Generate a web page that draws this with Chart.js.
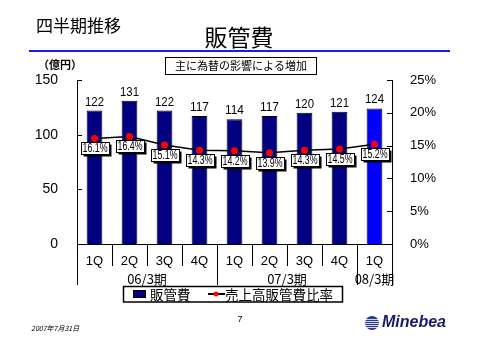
<!DOCTYPE html>
<html><head><meta charset="utf-8">
<script src="https://cdn.jsdelivr.net/npm/chart.js@4"></script>
<style>html,body{margin:0;padding:0;background:#fff;}#wrap{width:480px;height:340px;position:relative;}</style>
</head><body><div id="wrap"><canvas id="c" width="480" height="340"></canvas></div>
<script>
const categories = ['1Q','2Q','3Q','4Q','1Q','2Q','3Q','4Q','1Q'];
const fiscalYears = ['06/3期','07/3期','08/3期'];
const fiscalYearSpans = [4,4,1];
const sgaValues = [122,131,122,117,114,117,120,121,124];
const sgaRatio = [16.1,16.4,15.1,14.3,14.2,13.9,14.3,14.5,15.2];
const seriesNames = ['販管費','売上高販管費比率'];
const leftAxisMax = 150, leftAxisStep = 50;
const rightAxisMax = 25, rightAxisStep = 5;

const FONT = "'Liberation Sans','Noto Sans CJK JP',Arial,sans-serif";
const JFONT = "'Noto Sans CJK JP','Liberation Sans',sans-serif";

const deco = {
  id:'deco',
  afterDraw(chart){
    const ctx = chart.ctx, x = chart.scales.x, y = chart.scales.y, y1 = chart.scales.y1;
    const area = chart.chartArea;
    ctx.save();
    ctx.strokeStyle='#000'; ctx.lineWidth=1;
    y.ticks.forEach(t=>{const py=Math.round(y.getPixelForValue(t.value))+0.5;ctx.beginPath();ctx.moveTo(area.left,py);ctx.lineTo(area.left+5,py);ctx.stroke();});
    y1.ticks.forEach(t=>{const py=Math.round(y1.getPixelForValue(t.value))+0.5;ctx.beginPath();ctx.moveTo(area.right,py);ctx.lineTo(area.right-5,py);ctx.stroke();});
    const half=(x.getPixelForValue(1)-x.getPixelForValue(0))/2;
    const groupBounds=[0]; let acc=0; fiscalYearSpans.forEach(s=>{acc+=s;groupBounds.push(acc);});
    for(let i=0;i<=categories.length;i++){
      const px=Math.round(x.getPixelForValue(i)-half)+0.5;
      const isGroup=groupBounds.includes(i);
      ctx.beginPath();ctx.moveTo(px,area.bottom);ctx.lineTo(px,isGroup?285:266);ctx.stroke();
    }
    ctx.fillStyle='#000';ctx.font='13px '+JFONT;ctx.textAlign='center';ctx.textBaseline='middle';
    let start=0;
    fiscalYears.forEach((g,i)=>{
      const a=x.getPixelForValue(start)-half, b=x.getPixelForValue(start+fiscalYearSpans[i]-1)+half;
      ctx.fillText(g,(a+b)/2,279); start+=fiscalYearSpans[i];
    });
    const barMeta=chart.getDatasetMeta(0);
    ctx.font='13px '+FONT;ctx.textBaseline='alphabetic';
    barMeta.data.forEach((el,i)=>{ctx.fillText(String(sgaValues[i]),el.x,el.y-5,19);});
    const lineMeta=chart.getDatasetMeta(1);
    ctx.font='12px '+FONT;
    lineMeta.data.forEach((el,i)=>{
      const txt=sgaRatio[i].toFixed(1)+'%';
      const w=28,h=12,bx=Math.round(el.x-w/2)+0.5,by=Math.round(el.y+4)+0.5;
      ctx.fillStyle='#000';ctx.fillRect(bx+2,by+2,w,h);
      ctx.fillStyle='#fff';ctx.fillRect(bx,by,w,h);
      ctx.strokeStyle='#000';ctx.lineWidth=1;ctx.strokeRect(bx,by,w,h);
      ctx.fillStyle='#000';ctx.textBaseline='middle';ctx.fillText(txt,el.x+0.5,by+h/2+0.5,25);
    });
    ctx.textAlign='left';ctx.textBaseline='middle';ctx.fillStyle='#000';
    ctx.font='17px '+JFONT;ctx.fillText('四半期推移',36,26);
    ctx.textAlign='center';ctx.font='23px '+JFONT;ctx.fillText('販管費',239,37);
    ctx.fillStyle='#1a1aff';ctx.fillRect(29,50,421,2);
    ctx.fillStyle='#000';ctx.textAlign='left';ctx.font='bold 11px '+JFONT;ctx.fillText('（億円）',38,65);
    ctx.strokeStyle='#000';ctx.lineWidth=1;ctx.strokeRect(165.5,57.5,151,17);
    ctx.textAlign='center';ctx.font='11px '+JFONT;ctx.fillText('主に為替の影響による増加',241,66);
    ctx.lineWidth=1.5;ctx.strokeRect(123.5,286.5,219,15.5);
    ctx.fillStyle='#000080';ctx.fillRect(133,290,13,8);ctx.strokeStyle='#000';ctx.lineWidth=1;ctx.strokeRect(133.5,290.5,12,7);
    ctx.fillStyle='#000';ctx.textAlign='left';ctx.font='13.5px '+JFONT;ctx.fillText(seriesNames[0],150,294.5);
    ctx.fillRect(208,293,17,2);ctx.fillStyle='#ff0000';ctx.beginPath();ctx.arc(216,294,2.5,0,Math.PI*2);ctx.fill();
    ctx.fillStyle='#000';ctx.fillText(seriesNames[1],225,294.5);
    ctx.font='italic 7px '+JFONT;ctx.fillText('2007年7月31日',31,328);
    ctx.textAlign='center';ctx.font='9px '+FONT;ctx.fillText('7',240,320);
    ctx.fillStyle='#2a3a8a';ctx.beginPath();ctx.arc(372,323,7,0,Math.PI*2);ctx.fill();
    ctx.strokeStyle='#fff';ctx.lineWidth=0.8;
    for(let k=-4;k<=4;k+=2){ctx.beginPath();ctx.moveTo(365,323+k+0.5);ctx.lineTo(379,323+k+0.5);ctx.stroke();}
    ctx.fillStyle='#1a1a6e';ctx.textAlign='left';ctx.font='italic bold 16px '+FONT;ctx.fillText('Minebea',382,323);
    ctx.restore();
  }
};

new Chart(document.getElementById('c'),{
  data:{
    labels:categories,
    datasets:[
      {type:'bar',label:seriesNames[0],data:sgaValues,yAxisID:'y',order:2,
       backgroundColor:sgaValues.map((v,i)=>i===sgaValues.length-1?'#0000ff':'#000080'),
       borderColor:'#000',borderWidth:1,barPercentage:0.45,categoryPercentage:1},
      {type:'line',label:seriesNames[1],data:sgaRatio,yAxisID:'y1',order:1,
       borderColor:'#000',borderWidth:1.5,pointBackgroundColor:'#ff0000',pointBorderWidth:0,pointRadius:3.5,tension:0}
    ]
  },
  options:{
    responsive:false,animation:false,
    layout:{padding:{top:80,left:0,right:0,bottom:0}},
    plugins:{legend:{display:false},tooltip:{enabled:false}},
    scales:{
      x:{grid:{display:false},border:{display:true,color:'#000',width:1},
         ticks:{color:'#000',font:{size:13,family:FONT},padding:2,maxRotation:0},
         afterFit(s){s.height=96;}},
      y:{position:'left',min:0,max:leftAxisMax,grid:{display:false},border:{display:true,color:'#000',width:1},
         ticks:{stepSize:leftAxisStep,color:'#000',font:{size:14,family:FONT},padding:11},
         afterFit(s){s.width=77;}},
      y1:{position:'right',min:0,max:rightAxisMax,grid:{display:false},border:{display:true,color:'#000',width:1},
         ticks:{stepSize:rightAxisStep,color:'#000',font:{size:13,family:FONT},padding:10,callback:v=>v+'%'},
         afterFit(s){s.width=88;}}
    }
  },
  plugins:[deco]
});
</script></body></html>
